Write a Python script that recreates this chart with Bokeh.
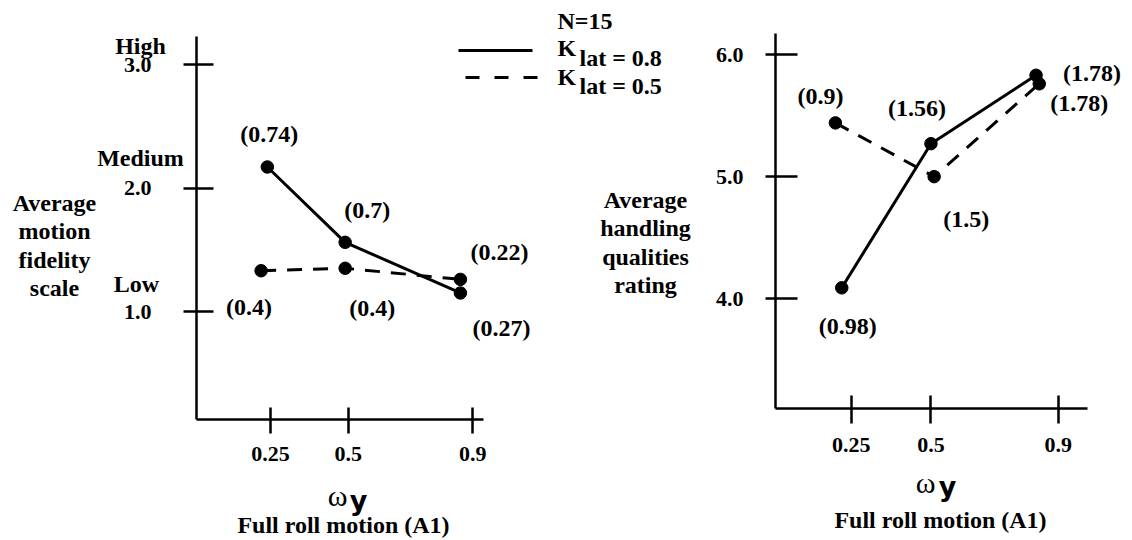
from bokeh.plotting import figure
from bokeh.layouts import row
from bokeh.models import Range1d, FixedTicker, Label, ColumnDataSource, PrintfTickFormatter
from bokeh.core.properties import value
from bokeh.embed import file_html
from bokeh.resources import INLINE

# ---------------- data ----------------
freq_ticks = [0.25, 0.5, 0.9]
freq_tick_labels = ["0.25", "0.5", "0.9"]

# left panel: average motion fidelity scale
fid_x_k08 = [0.24, 0.49, 0.86]
fid_y_k08 = [2.17, 1.56, 1.15]
fid_sd_k08 = ["(0.74)", "(0.7)", "(0.27)"]
fid_x_k05 = [0.22, 0.49, 0.86]
fid_y_k05 = [1.33, 1.35, 1.26]
fid_sd_k05 = ["(0.4)", "(0.4)", "(0.22)"]
fid_ticks = [1, 2, 3]
fid_tick_words = ["Low", "Medium", "High"]

# right panel: average handling qualities rating
hqr_x_k08 = [0.22, 0.50, 0.83]
hqr_y_k08 = [4.09, 5.27, 5.83]
hqr_sd_k08 = ["(0.98)", "(1.56)", "(1.78)"]
hqr_x_k05 = [0.20, 0.51, 0.84]
hqr_y_k05 = [5.44, 5.00, 5.76]
hqr_sd_k05 = ["(0.9)", "(1.5)", "(1.78)"]
hqr_ticks = [4, 5, 6]

legend_title = "N=15"
legend_k08 = "lat = 0.8"
legend_k05 = "lat = 0.5"

# ---------------- styling / layout ----------------
SERIF = "Liberation Serif"
FS = "24px"
TICK_FS = "22px"
LW = 3
DASH = "15 11"

# label offsets in pixels (dx, dy; dy positive = down)
off_fid_k08 = [(2, -33), (22, -32), (41, 35)]
off_fid_k05 = [(-12, 36), (27, 40), (39, -27)]
off_hqr_k08 = [(6, 38), (-14, -36), (56, -2)]
off_hqr_k05 = [(-15, -27), (32, 42), (40, 19)]

# pixel geometry (global page pixels)
W1, W2, H = 550, 582, 540
# left panel mapping: px = A1 + B1*x ; py = PY1 - S1*(y - Y01)
A1, B1 = 192.1, 311.4
PY1, Y01, S1 = 311.0, 1.0, 123.5
L1, BOT1, AXTOP1, AXRIGHT1 = 196, 419, 36, 483
# right panel mapping (global px)
A2, B2 = 771.2, 318.5
PY2, Y02, S2 = 298.3, 4.0, 122.15
L2, BOT2, AXTOP2, AXRIGHT2 = 775, 408, 33, 1087


def ix(px, a, b):
    return (px - a) / b


def iy(py, y0, py0, s):
    return y0 + (py0 - py) / s


def make_fig(x0_px, width, a, b, y0, py0, s, left, bottom, top, right):
    p = figure(
        width=width, height=H,
        x_range=Range1d(ix(x0_px, a, b), ix(x0_px + width, a, b)),
        y_range=Range1d(iy(H, y0, py0, s), iy(0, y0, py0, s)),
        output_backend="svg", toolbar_location=None, min_border=0,
    )
    p.outline_line_color = None
    p.xgrid.visible = False
    p.ygrid.visible = False
    p.background_fill_color = "white"
    p.border_fill_color = "white"
    xa, ya = p.xaxis[0], p.yaxis[0]
    xa.fixed_location = iy(bottom, y0, py0, s)
    ya.fixed_location = ix(left, a, b)
    xa.bounds = (ix(left, a, b), ix(right, a, b))
    ya.bounds = (iy(bottom, y0, py0, s), iy(top, y0, py0, s))
    for ax in (xa, ya):
        ax.axis_line_width = 2.5
        ax.axis_line_color = "black"
        ax.major_tick_line_width = 2.5
        ax.major_tick_line_color = "black"
        ax.minor_tick_in = 0
        ax.minor_tick_out = 0
        ax.major_label_text_font = SERIF
        ax.major_label_text_font_style = "bold"
        ax.major_label_text_font_size = TICK_FS
        ax.major_label_text_color = "black"
    return p


def add_series(p, xs, ys, dash, texts, offs):
    if dash:
        p.line(xs, ys, line_width=LW, line_color="black", line_dash=dash)
    else:
        p.line(xs, ys, line_width=LW, line_color="black")
    p.scatter(xs, ys, size=12.5, color="black")
    src = ColumnDataSource(dict(x=xs, y=ys, t=texts,
                                dx=[o[0] for o in offs], dy=[o[1] for o in offs]))
    p.text(x="x", y="y", text="t", x_offset="dx", y_offset="dy", source=src,
           text_font=value(SERIF), text_font_style="bold", text_font_size=FS,
           text_align="center", text_baseline="middle", text_color="black")


def add_label(p, px, py, text, a, b, y0, py0, s, **kw):
    opts = dict(text_font=SERIF, text_font_style="bold", text_font_size=FS,
                text_align="center", text_baseline="middle", text_color="black")
    opts.update(kw)
    p.add_layout(Label(x=ix(px, a, b), y=iy(py, y0, py0, s), text=text, **opts))


# ---------------- left panel ----------------
g1 = (A1, B1, Y01, PY1, S1)
p1 = make_fig(0, W1, *g1, L1, BOT1, AXTOP1, AXRIGHT1)
p1.xaxis.ticker = FixedTicker(ticks=freq_ticks)
p1.xaxis.major_label_overrides = dict(zip(freq_ticks, freq_tick_labels))
p1.xaxis.major_tick_in = 12
p1.xaxis.major_tick_out = 14
p1.xaxis.major_label_standoff = 13
p1.yaxis.ticker = FixedTicker(ticks=fid_ticks)
p1.yaxis.formatter = PrintfTickFormatter(format="%.1f")
p1.yaxis.major_tick_in = 17
p1.yaxis.major_tick_out = 13
p1.yaxis.major_label_standoff = 32

add_series(p1, fid_x_k08, fid_y_k08, None, fid_sd_k08, off_fid_k08)
add_series(p1, fid_x_k05, fid_y_k05, DASH, fid_sd_k05, off_fid_k05)

for word, py, px in zip(fid_tick_words, [283, 157, 45], [136, 140, 140]):
    add_label(p1, px, py, word, *g1)
add_label(p1, 54, 245, "Average\nmotion\nfidelity\nscale", *g1, text_line_height=1.1)
add_label(p1, 337, 495, "ω", *g1, text_font_style="normal", text_font_size="30px",
          text_baseline="alphabetic")
add_label(p1, 358, 500, "y", *g1, text_font="DejaVu Sans", text_font_size="27px",
          text_baseline="alphabetic")
add_label(p1, 343, 524, "Full roll motion (A1)", *g1)

# legend swatches
p1.line([ix(458, A1, B1), ix(532, A1, B1)], [iy(50, Y01, PY1, S1)] * 2,
        line_width=LW, line_color="black")
p1.line([ix(465, A1, B1), ix(540, A1, B1)], [iy(77, Y01, PY1, S1)] * 2,
        line_width=LW, line_color="black", line_dash="14 15")

# ---------------- right panel ----------------
g2 = (A2, B2, Y02, PY2, S2)
p2 = make_fig(W1, W2, *g2, L2, BOT2, AXTOP2, AXRIGHT2)
p2.xaxis.ticker = FixedTicker(ticks=freq_ticks)
p2.xaxis.major_label_overrides = dict(zip(freq_ticks, freq_tick_labels))
p2.xaxis.major_tick_in = 13
p2.xaxis.major_tick_out = 15
p2.xaxis.major_label_standoff = 14
p2.yaxis.ticker = FixedTicker(ticks=hqr_ticks)
p2.yaxis.formatter = PrintfTickFormatter(format="%.1f")
p2.yaxis.major_tick_in = 22
p2.yaxis.major_tick_out = 10
p2.yaxis.major_label_standoff = 22

add_series(p2, hqr_x_k08, hqr_y_k08, None, hqr_sd_k08, off_hqr_k08)
add_series(p2, hqr_x_k05, hqr_y_k05, DASH, hqr_sd_k05, off_hqr_k05)

add_label(p2, 645, 242, "Average\nhandling\nqualities\nrating", *g2, text_line_height=1.1)
add_label(p2, 925, 482, "ω", *g2, text_font_style="normal", text_font_size="30px",
          text_baseline="alphabetic")
add_label(p2, 947, 486, "y", *g2, text_font="DejaVu Sans", text_font_size="27px",
          text_baseline="alphabetic")
add_label(p2, 940, 519, "Full roll motion (A1)", *g2)

# legend texts (drawn in the right figure's area)
add_label(p2, 557, 20, legend_title, *g2, text_align="left")
add_label(p2, 557, 47, "K", *g2, text_align="left")
add_label(p2, 579, 57, legend_k08, *g2, text_align="left")
add_label(p2, 557, 76, "K", *g2, text_align="left")
add_label(p2, 579, 85, legend_k05, *g2, text_align="left")

layout = row(p1, p2)
open("out.html", "w").write(file_html(layout, INLINE))
